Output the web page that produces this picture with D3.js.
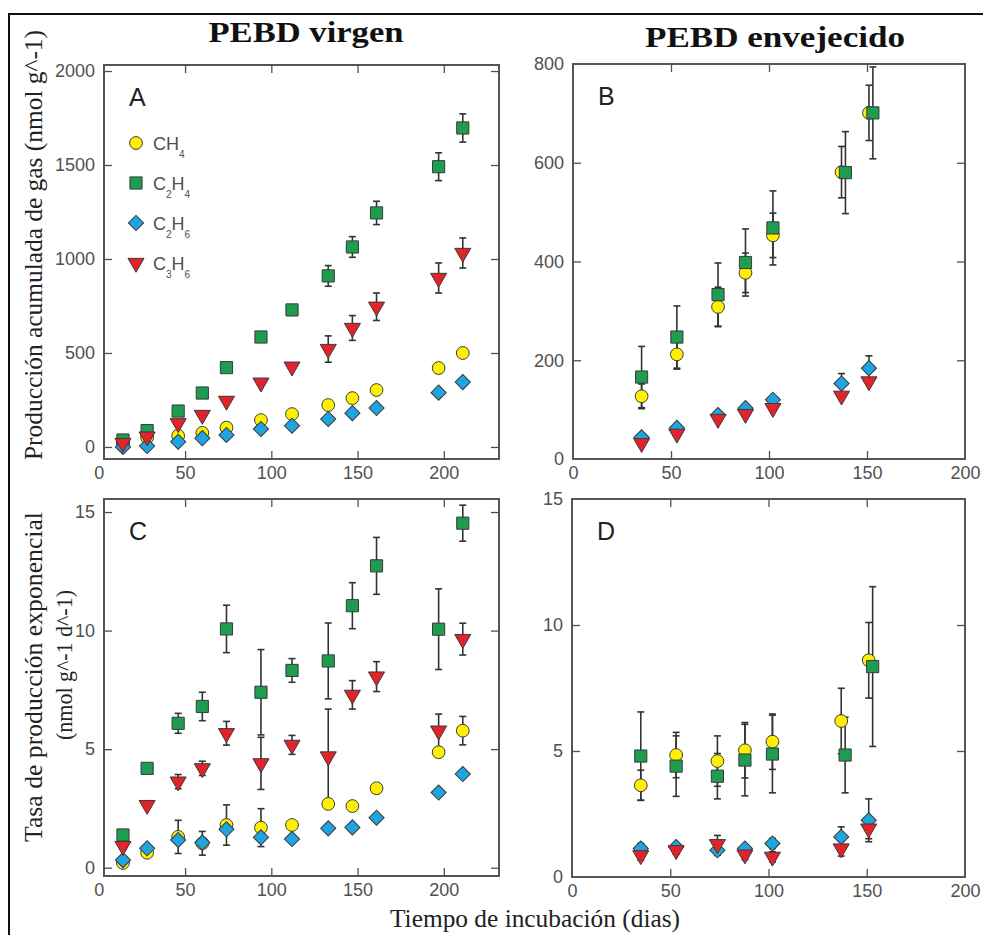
<!DOCTYPE html>
<html>
<head>
<meta charset="utf-8">
<script src="https://cdn.jsdelivr.net/npm/d3@7"></script>
<style>
  body { margin: 0; background: #fff; }
</style>
</head>
<body>
<svg id="chart" width="983" height="935"></svg>
<script>
// incubation days
const daysVirgen = [14, 28, 46, 60, 74, 94, 112, 133, 147, 161, 197, 211];
const daysAged = [35, 53, 74, 88, 102, 137, 151];
const daysAgedC2H4 = [35, 53, 74, 88, 102, 139, 153];

// A: cumulative production, virgin LDPE (nmol g^-1)
const ch4A = [20, 50, 60, 75, 103, 143, 175, 223, 260, 303, 420, 500];
const c2h4A = [37, 87, 191, 287, 422, 585, 729, 910, 1064, 1245, 1491, 1697];
const c2h4AErr = [0, 0, 0, 0, 0, 20, 25, 55, 55, 62, 74, 75];
const c2h6A = [0, 5, 28, 47, 64, 96, 113, 149, 180, 207, 289, 345];
const c3h6A = [21, 55, 126, 170, 245, 342, 427, 521, 633, 746, 899, 1032];
const c3h6AErr = [0, 0, 0, 0, 0, 0, 0, 70, 66, 73, 80, 80];

// B: cumulative production, aged LDPE
const ch4B = [127, 212, 308, 377, 453, 581, 701];
const ch4BErr = [25, 30, 40, 40, 45, 52, 56];
const c2h4B = [166, 247, 333, 398, 468, 580, 701];
const c2h4BErr = [62, 63, 64, 68, 75, 83, 93];
const c2h6B = [44, 63, 89, 103, 120, 153, 184];
const c2h6BErr = [0, 0, 0, 0, 0, 20, 25];
const c3h6B = [32, 51, 81, 91, 103, 128, 157];

// C: exponential production rate, virgin LDPE (nmol g^-1 d^-1)
const ch4C = [0.2, 0.63, 1.3, 1.03, 1.8, 1.69, 1.8, 2.69, 2.6, 3.35, 4.87, 5.78];
const ch4CErr = [0, 0, 0.7, 0.5, 0.85, 0.8, 0, 0, 0, 0, 0, 0.6];
const c2h4C = [1.38, 4.19, 6.09, 6.8, 10.07, 7.4, 8.32, 8.72, 11.05, 12.73, 10.06, 14.53];
const c2h4CErr = [0, 0, 0.42, 0.6, 1.0, 1.8, 0.5, 1.6, 0.97, 1.2, 1.7, 0.76];
const c2h6C = [0.32, 0.82, 1.17, 1.06, 1.62, 1.28, 1.21, 1.66, 1.7, 2.11, 3.17, 3.95];
const c3h6C = [0.91, 2.64, 3.63, 4.19, 5.67, 4.4, 5.18, 4.69, 7.29, 8.06, 5.78, 9.64];
const c3h6CErr = [0, 0, 0.3, 0.3, 0.5, 1.1, 0.4, 2.0, 0.6, 0.63, 0.7, 0.67];

// D: exponential production rate, aged LDPE
const ch4D = [3.64, 4.84, 4.6, 5.03, 5.37, 6.19, 8.6];
const ch4DErr = [0.6, 0.9, 1.0, 1.1, 1.1, 1.3, 1.5];
const c2h4D = [4.8, 4.4, 4.0, 4.64, 4.88, 4.84, 8.35];
const c2h4DErr = [1.75, 1.2, 0.9, 1.42, 1.54, 1.5, 3.17];
const c2h6D = [1.13, 1.19, 1.06, 1.13, 1.33, 1.59, 2.25];
const c2h6DErr = [0.2, 0.1, 0.2, 0.1, 0.2, 0.4, 0.85];
const c3h6D = [0.86, 1.06, 1.3, 0.89, 0.8, 1.13, 1.92];
const c3h6DErr = [0.2, 0.15, 0.35, 0.2, 0.2, 0.3, 0.4];

const gasLabels = ["CH_4", "C_2H_4", "C_2H_6", "C_3H_6"];
const xTicks = [0, 50, 100, 150, 200];
const yTicksA = [0, 500, 1000, 1500, 2000];
const yTicksB = [0, 200, 400, 600, 800];
const yTicksRate = [0, 5, 10, 15];

const gasStyle = {
    CH_4:   {fill: "#fff000", shape: "circle"},
    C_2H_4: {fill: "#1e9c4f", shape: "square"},
    C_2H_6: {fill: "#1ea5e0", shape: "diamond"},
    C_3H_6: {fill: "#e3232b", shape: "triangle"}
};

const symbolPath = {
    circle: d3.symbol(d3.symbolCircle, 128)(),
    square: d3.symbol(d3.symbolSquare, 148)(),
    diamond: d3.symbol(d3.symbolSquare, 115)(),
    triangle: d3.symbol(d3.symbolTriangle, 112)()
};
const symbolRotate = {circle: 0, square: 0, diamond: 45, triangle: 180};

const svg = d3.select("#chart");
svg.append("rect").attr("width", 983).attr("height", 935).attr("fill", "#fff");

// outer frame (only top and left fall inside the picture)
svg.append("path")
    .attr("d", "M9,935V14H983")
    .attr("fill", "none")
    .attr("stroke", "#111")
    .attr("stroke-width", 2);

const zip = (days, vals, errs) => days.map((d, i) => ({x: d, y: vals[i], e: errs ? errs[i] : 0}));

const panels = [
    {letter: "A", box: [104, 499, 65, 459], xDomain: [3, 232], yDomain: [-64, 2032], yTicks: yTicksA, legend: true,
     series: [
        {gas: "CH_4", pts: zip(daysVirgen, ch4A)},
        {gas: "C_2H_4", pts: zip(daysVirgen, c2h4A, c2h4AErr)},
        {gas: "C_2H_6", pts: zip(daysVirgen, c2h6A)},
        {gas: "C_3H_6", pts: zip(daysVirgen, c3h6A, c3h6AErr)}
     ]},
    {letter: "B", box: [573, 965, 64, 459], xDomain: [0, 200], yDomain: [0, 800], yTicks: yTicksB,
     series: [
        {gas: "CH_4", pts: zip(daysAged, ch4B, ch4BErr)},
        {gas: "C_2H_4", pts: zip(daysAgedC2H4, c2h4B, c2h4BErr)},
        {gas: "C_2H_6", pts: zip(daysAged, c2h6B, c2h6BErr)},
        {gas: "C_3H_6", pts: zip(daysAged, c3h6B)}
     ]},
    {letter: "C", box: [104, 499, 499, 876], xDomain: [3, 232], yDomain: [-0.35, 15.55], yTicks: yTicksRate,
     series: [
        {gas: "CH_4", pts: zip(daysVirgen, ch4C, ch4CErr)},
        {gas: "C_2H_4", pts: zip(daysVirgen, c2h4C, c2h4CErr)},
        {gas: "C_2H_6", pts: zip(daysVirgen, c2h6C)},
        {gas: "C_3H_6", pts: zip(daysVirgen, c3h6C, c3h6CErr)}
     ]},
    {letter: "D", box: [572, 965, 499, 877], xDomain: [0, 200], yDomain: [0, 15], yTicks: yTicksRate,
     series: [
        {gas: "CH_4", pts: zip(daysAged, ch4D, ch4DErr)},
        {gas: "C_2H_4", pts: zip(daysAgedC2H4, c2h4D, c2h4DErr)},
        {gas: "C_2H_6", pts: zip(daysAged, c2h6D, c2h6DErr)},
        {gas: "C_3H_6", pts: zip(daysAged, c3h6D, c3h6DErr)}
     ]}
];

function addGasText(sel, label) {
    // "C_2H_4" -> C, sub 2, H, sub 4
    const parts = label.split(/(_\d)/).filter(s => s.length);
    let sub = false;
    parts.forEach(p => {
        if (p[0] === "_") {
            sel.append("tspan").attr("font-size", 10).attr("dy", 8).text(p.slice(1));
            sub = true;
        } else {
            sel.append("tspan").attr("dy", sub ? -8 : 0).text(p);
            sub = false;
        }
    });
}

function drawPanel(p) {
    const [x0, x1, y0, y1] = p.box;
    const x = d3.scaleLinear().domain(p.xDomain).range([x0, x1]);
    const y = d3.scaleLinear().domain(p.yDomain).range([y1, y0]);
    const g = svg.append("g");

    const styleAxis = (ax) => {
        ax.attr("font-size", 18)
          .attr("font-family", "'Liberation Sans', Arial, sans-serif")
          .attr("color", "#505050");
        ax.select(".domain").remove();
        ax.selectAll(".tick line").attr("stroke-width", 1.3);
    };

    const gx = g.append("g").attr("transform", `translate(0,${y1})`)
        .call(d3.axisBottom(x).tickValues(xTicks).tickFormat(d3.format("d"))
            .tickSizeInner(-8).tickSizeOuter(0).tickPadding(7));
    styleAxis(gx);
    gx.selectAll(".tick line").filter(d => d <= p.xDomain[0] || d >= p.xDomain[1]).remove();

    const gxt = g.append("g").attr("transform", `translate(0,${y0})`)
        .call(d3.axisTop(x).tickValues(xTicks).tickSizeInner(-8).tickSizeOuter(0).tickFormat(""));
    styleAxis(gxt);
    gxt.selectAll(".tick line").filter(d => d <= p.xDomain[0] || d >= p.xDomain[1]).remove();

    const gy = g.append("g").attr("transform", `translate(${x0},0)`)
        .call(d3.axisLeft(y).tickValues(p.yTicks).tickFormat(d3.format("d"))
            .tickSizeInner(-8).tickSizeOuter(0).tickPadding(9));
    styleAxis(gy);
    gy.selectAll(".tick line").filter(d => d <= p.yDomain[0] || d >= p.yDomain[1]).remove();

    const gyr = g.append("g").attr("transform", `translate(${x1},0)`)
        .call(d3.axisRight(y).tickValues(p.yTicks).tickSizeInner(-8).tickSizeOuter(0).tickFormat(""));
    styleAxis(gyr);
    gyr.selectAll(".tick line").filter(d => d <= p.yDomain[0] || d >= p.yDomain[1]).remove();

    g.append("rect")
        .attr("x", x0).attr("y", y0)
        .attr("width", x1 - x0).attr("height", y1 - y0)
        .attr("fill", "none")
        .attr("stroke", "#555")
        .attr("stroke-width", 2);

    // error bars first, markers on top
    const eb = g.append("g").attr("stroke", "#333").attr("stroke-width", 1.6);
    p.series.forEach(s => {
        const withErr = s.pts.filter(d => d.e > 0);
        eb.selectAll(null).data(withErr).enter().append("line")
            .attr("x1", d => x(d.x)).attr("x2", d => x(d.x))
            .attr("y1", d => y(d.y - d.e)).attr("y2", d => y(d.y + d.e));
        [-1, 1].forEach(sign => {
            eb.selectAll(null).data(withErr).enter().append("line")
                .attr("x1", d => x(d.x) - 3.5).attr("x2", d => x(d.x) + 3.5)
                .attr("y1", d => y(d.y + sign * d.e)).attr("y2", d => y(d.y + sign * d.e));
        });
    });

    p.series.forEach(s => {
        const st = gasStyle[s.gas];
        g.append("g").selectAll("path").data(s.pts).enter().append("path")
            .attr("d", symbolPath[st.shape])
            .attr("transform", d => `translate(${x(d.x)},${y(d.y)}) rotate(${symbolRotate[st.shape]})`)
            .attr("fill", st.fill)
            .attr("stroke", "#3a3a3a")
            .attr("stroke-width", 1);
    });

    g.append("text")
        .attr("x", x0 + 25).attr("y", y0 + 41)
        .attr("font-family", "'Liberation Sans', Arial, sans-serif")
        .attr("font-size", 25)
        .attr("fill", "#222")
        .text(p.letter);

    if (p.legend) {
        const lg = g.append("g");
        gasLabels.forEach((lab, i) => {
            const st = gasStyle[lab];
            const cy = y0 + 78 + i * 40;
            lg.append("path")
                .attr("d", symbolPath[st.shape])
                .attr("transform", `translate(${x0 + 32},${cy}) rotate(${symbolRotate[st.shape]})`)
                .attr("fill", st.fill)
                .attr("stroke", "#3a3a3a")
                .attr("stroke-width", 1);
            const t = lg.append("text")
                .attr("x", x0 + 49).attr("y", cy + 6.5)
                .attr("font-family", "'Liberation Sans', Arial, sans-serif")
                .attr("font-size", 18)
                .attr("fill", "#505050");
            addGasText(t, lab);
        });
    }
}

panels.forEach(drawPanel);

// titles and axis titles
const serif = "'Liberation Serif', 'Times New Roman', serif";
svg.append("text").attr("x", 306).attr("y", 42).attr("text-anchor", "middle")
    .attr("font-family", serif).attr("font-weight", "bold").attr("font-size", 30)
    .attr("textLength", 195).attr("lengthAdjust", "spacingAndGlyphs").attr("fill", "#111")
    .text("PEBD virgen");
svg.append("text").attr("x", 775).attr("y", 47).attr("text-anchor", "middle")
    .attr("font-family", serif).attr("font-weight", "bold").attr("font-size", 30)
    .attr("textLength", 260).attr("lengthAdjust", "spacingAndGlyphs").attr("fill", "#111")
    .text("PEBD envejecido");

svg.append("text").attr("transform", "translate(42,245) rotate(-90)").attr("text-anchor", "middle")
    .attr("font-family", serif).attr("font-size", 25)
    .attr("textLength", 430).attr("lengthAdjust", "spacingAndGlyphs").attr("fill", "#222")
    .text("Producción acumulada de gas (nmol g^-1)");

svg.append("text").attr("transform", "translate(42,677) rotate(-90)").attr("text-anchor", "middle")
    .attr("font-family", serif).attr("font-size", 25)
    .attr("textLength", 330).attr("lengthAdjust", "spacingAndGlyphs").attr("fill", "#222")
    .text("Tasa de producción exponencial");
svg.append("text").attr("transform", "translate(72,665) rotate(-90)").attr("text-anchor", "middle")
    .attr("font-family", serif).attr("font-size", 23)
    .attr("textLength", 150).attr("lengthAdjust", "spacingAndGlyphs").attr("fill", "#222")
    .text("(nmol g^-1 d^-1)");

svg.append("text").attr("x", 535).attr("y", 927).attr("text-anchor", "middle")
    .attr("font-family", serif).attr("font-size", 25)
    .attr("textLength", 290).attr("lengthAdjust", "spacingAndGlyphs").attr("fill", "#222")
    .text("Tiempo de incubación (dias)");
</script>
</body>
</html>
